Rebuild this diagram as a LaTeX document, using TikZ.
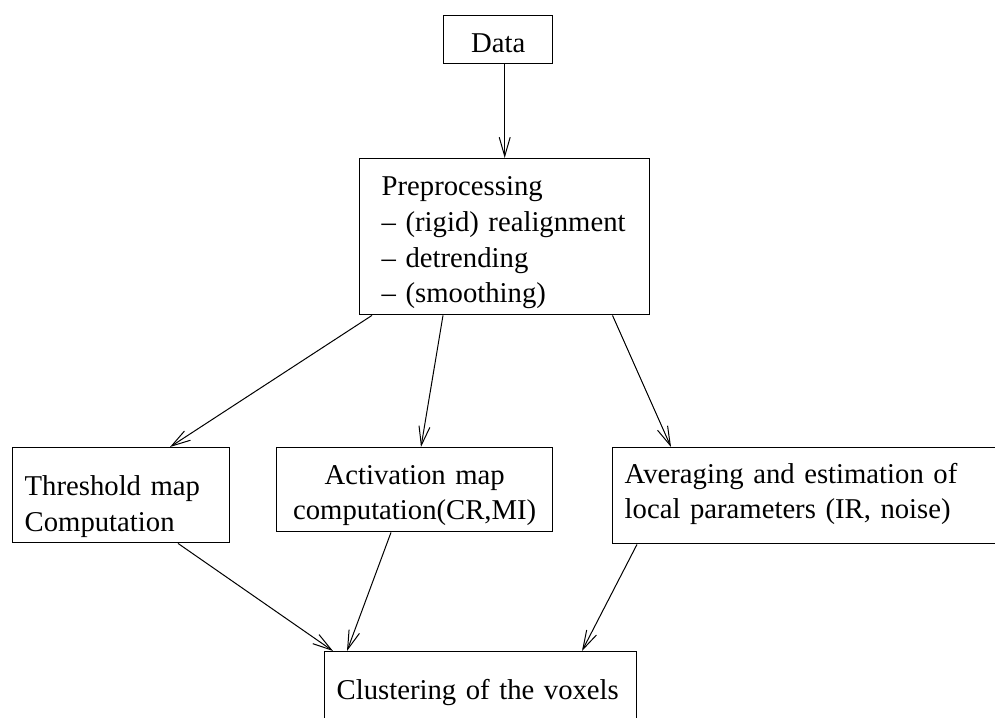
\documentclass[tikz,border=0pt]{standalone}
\usepackage{fontspec}
\setmainfont{Liberation Serif}
\usetikzlibrary{arrows.meta,calc}

\begin{document}
\begin{tikzpicture}[x=0.5pt,y=-0.5pt,>={Straight Barb[length=9.5pt,width=5.5pt]},
  box/.style={draw,line width=0.7pt,anchor=north west,inner ysep=0pt,
    font=\fontsize{14.35}{17.85}\selectfont},
  lbox/.style={box,align=left,inner xsep=6pt},
  cbox/.style={box,align=center,inner xsep=0pt},
  flow/.style={->,line width=0.5pt}]
  \useasboundingbox (0,0) rectangle (995,717);
  % boxes
  \node[cbox,text width=54.5pt,text height=18.35pt,text depth=5.65pt] (data) at (443,15) {Data};
  \node[lbox,inner xsep=11pt,text width=123pt,text height=18.5pt,text depth=59.5pt] (pre) at (359,158)
    {Preprocessing\\-- (rigid) realignment\\-- detrending\\-- (smoothing)};
  \node[lbox,text width=96.5pt,text height=24pt,text depth=23.5pt] (thr) at (12,447)
    {Threshold map\\Computation};
  \node[cbox,text width=138pt,text height=18.15pt,text depth=23.85pt] (act) at (276,447)
    {Activation map\\computation(CR,MI)};
  \node[lbox,text width=187pt,text height=17.65pt,text depth=30.35pt] (avg) at (612,447)
    {Averaging and estimation of\\local parameters (IR, noise)};
  \node[lbox,text width=144pt,text height=24pt,text depth=18pt] (clu) at (324,651)
    {Clustering of the voxels};
  % arrows
  \draw[flow] (data.south -| pre.north) -- (pre.north);
  \draw[flow] ($(pre.south west)+(13,0)$) -- ($(thr.north west)+(158,0)$);
  \draw[flow] ($(pre.south west)+(84,0)$) -- ($(act.north west)+(145,0)$);
  \draw[flow] ($(pre.south west)+(253.5,0)$) -- ($(avg.north west)+(59,0)$);
  \draw[flow] ($(thr.south west)+(166,0)$) -- ($(clu.north west)+(9,0)$);
  \draw[flow] ($(act.south west)+(115,0)$) -- ($(clu.north west)+(23,0)$);
  \draw[flow] ($(avg.south west)+(25,0)$) -- ($(clu.north west)+(258,0)$);
\end{tikzpicture}
\end{document}
